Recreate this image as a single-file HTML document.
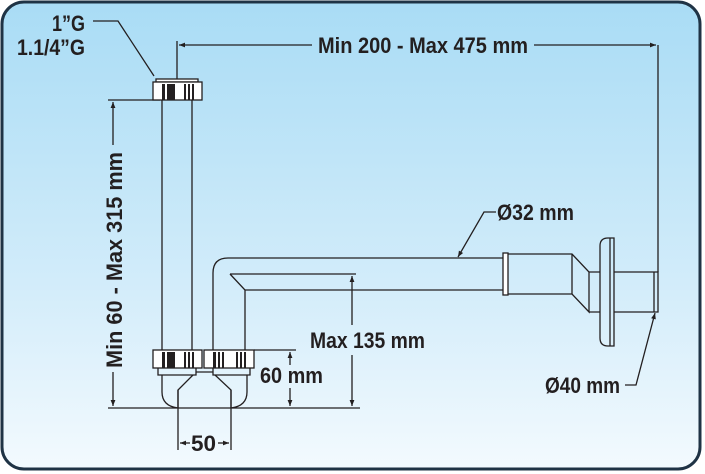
<!DOCTYPE html>
<html><head><meta charset="utf-8"><style>
html,body{margin:0;padding:0;background:#fff;}
svg{display:block;}
text{font-family:"Liberation Sans",sans-serif;font-weight:bold;fill:#231f20;}
</style></head><body>
<svg width="705" height="474" viewBox="0 0 705 474" xmlns="http://www.w3.org/2000/svg">
<defs>
<linearGradient id="bg" x1="0" y1="0" x2="0" y2="1">
<stop offset="0" stop-color="#a9dcf5"/><stop offset="0.6" stop-color="#d2ecfa"/><stop offset="1" stop-color="#f3fafe"/>
</linearGradient>
<marker id="a" viewBox="0 0 10 10" refX="10" refY="5" markerWidth="10" markerHeight="6" orient="auto-start-reverse" markerUnits="userSpaceOnUse"><path d="M0,1 L10,5 L0,9 z" fill="#231f20"/></marker>
</defs>
<rect x="2" y="2" width="698" height="467" rx="22" fill="url(#bg)" stroke="#1f3345" stroke-width="3"/>
<g stroke="#231f20" stroke-width="1.3" fill="none">
<line x1="177" y1="41" x2="177" y2="79"/>
<line x1="658" y1="45" x2="658" y2="272"/>
<line x1="179" y1="45" x2="312" y2="45" marker-start="url(#a)"/>
<line x1="534" y1="45" x2="656" y2="45" marker-end="url(#a)"/>
<line x1="108" y1="100" x2="160" y2="100"/>
<line x1="108" y1="408" x2="360" y2="408"/>
<line x1="113" y1="102" x2="113" y2="145" marker-start="url(#a)"/>
<line x1="113" y1="372" x2="113" y2="406" marker-end="url(#a)"/>
<polyline points="93,21 118,21 154,76" />
<line x1="162" y1="100" x2="162" y2="352"/>
<line x1="192" y1="100" x2="192" y2="352"/>
<path d="M213,352 V273 Q213,258 228,258 H503"/>
<path d="M230,274 L245,290 V352"/>
<line x1="230" y1="274" x2="356" y2="274"/>
<line x1="245" y1="290" x2="503" y2="290"/>
<rect x="503" y="253" width="5" height="42" fill="#fff"/>
<path d="M508,254 H572 L589,272 V312 L572,294 H508"/>
<line x1="572" y1="254" x2="572" y2="294"/>
<path d="M589,272 H600 M589,312 H600"/>
<path d="M614,238 V346 H608 Q600,346 600,338 V246 Q600,238 608,238 Z" fill="none"/>
<line x1="610" y1="238" x2="610" y2="346"/>
<path d="M614,272 H658 V312 H614"/>
<line x1="654" y1="272" x2="654" y2="312"/>
<polyline points="496,212 484,212 458,257" marker-end="url(#a)"/>
<polyline points="625,385 636,385 655,313" marker-end="url(#a)"/>
<line x1="254" y1="350" x2="296" y2="350"/>
<line x1="290" y1="352" x2="290" y2="365" marker-start="url(#a)"/>
<line x1="290" y1="388" x2="290" y2="406" marker-end="url(#a)"/>
<line x1="352" y1="276" x2="352" y2="325" marker-start="url(#a)"/>
<line x1="352" y1="355" x2="352" y2="406" marker-end="url(#a)"/>
<line x1="178" y1="390" x2="178" y2="450"/>
<line x1="231" y1="390" x2="231" y2="450"/>
<line x1="180" y1="443" x2="190" y2="443" marker-start="url(#a)"/>
<line x1="218" y1="443" x2="229" y2="443" marker-end="url(#a)"/>
<path d="M158,368 V375 H196 V368 M213,368 V375 H250 V368"/>
<path d="M162,375 V392 Q162,406 178,408 M193,375 L178,390 V408"/>
<path d="M247,375 V392 Q247,406 231,408 M215,375 L231,390 V408"/>
<path d="M196,372 H213"/>
</g>
<g stroke="#231f20" stroke-width="1.3" fill="#fff">
<rect x="156" y="79" width="42" height="3"/>
<rect x="153" y="82" width="49" height="18"/>
<rect x="153" y="350" width="49" height="18"/>
<rect x="204" y="350" width="50" height="18"/>
</g>
<g fill="#231f20">
<rect x="162" y="84" width="3" height="16"/><rect x="167" y="84" width="8" height="16"/><rect x="184" y="84" width="2" height="16"/><rect x="188" y="84" width="2" height="16"/><rect x="192" y="84" width="2" height="16"/>
<rect x="162" y="352" width="3" height="16"/><rect x="167" y="352" width="8" height="16"/><rect x="184" y="352" width="2" height="16"/><rect x="188" y="352" width="2" height="16"/><rect x="192" y="352" width="2" height="16"/>
<rect x="213" y="352" width="3" height="16"/><rect x="218" y="352" width="2" height="16"/><rect x="222" y="352" width="2" height="16"/><rect x="236" y="352" width="2" height="16"/><rect x="240" y="352" width="2" height="16"/><rect x="244" y="352" width="2" height="16"/>
</g>
<g font-size="22">
<text x="318" y="53" textLength="210" lengthAdjust="spacingAndGlyphs">Min 200 - Max 475 mm</text>
<text x="52" y="31" textLength="33" lengthAdjust="spacingAndGlyphs">1”G</text>
<text x="17" y="55" textLength="68" lengthAdjust="spacingAndGlyphs">1.1/4”G</text>
<text transform="translate(122,368) rotate(-90)" textLength="216" lengthAdjust="spacingAndGlyphs">Min 60 - Max 315 mm</text>
<text x="497" y="220" textLength="77" lengthAdjust="spacingAndGlyphs">Ø32 mm</text>
<text x="310" y="348" textLength="115" lengthAdjust="spacingAndGlyphs">Max 135 mm</text>
<text x="260" y="383" textLength="63" lengthAdjust="spacingAndGlyphs">60 mm</text>
<text x="545" y="393" textLength="75" lengthAdjust="spacingAndGlyphs">Ø40 mm</text>
<text x="191" y="451" textLength="25" lengthAdjust="spacingAndGlyphs">50</text>
</g>
</svg>
</body></html>
